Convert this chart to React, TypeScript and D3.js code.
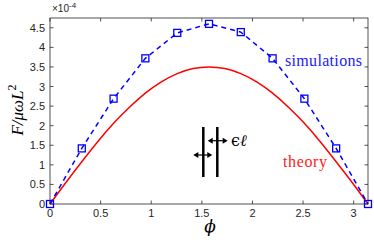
import * as d3 from "d3"

const W = 374
const H = 240
const MARGIN = { top: 18, right: 5, bottom: 36, left: 50 }

// simulations: phi = k*pi/10
const simPhi = [0, 0.314, 0.628, 0.942, 1.257, 1.571, 1.885, 2.199, 2.513, 2.827, 3.1416]
const simF = [0, 1.42, 2.69, 3.72, 4.37, 4.6, 4.39, 3.72, 2.69, 1.42, 0]

const thPhi = [0, 0.157, 0.314, 0.471, 0.628, 0.785, 0.942, 1.1, 1.257, 1.414, 1.571,
  1.728, 1.885, 2.042, 2.199, 2.356, 2.513, 2.67, 2.827, 2.985, 3.1416]
const thF = [0, 0.55, 1.08, 1.59, 2.06, 2.47, 2.83, 3.12, 3.33, 3.46, 3.5,
  3.46, 3.33, 3.12, 2.83, 2.47, 2.06, 1.59, 1.08, 0.55, 0]

const xTicks = [0, 0.5, 1, 1.5, 2, 2.5, 3]
const yTicks = [0, 0.5, 1, 1.5, 2, 2.5, 3, 3.5, 4, 4.5]

const AXIS = "#262626"
const TICK_FONT = "'Liberation Sans', Arial, sans-serif"
const SERIF = "'DejaVu Serif', 'Liberation Serif', serif"
const SERIF2 = "'Liberation Serif', 'Times New Roman', serif"

export default function App() {
  const iw = W - MARGIN.left - MARGIN.right
  const ih = H - MARGIN.top - MARGIN.bottom

  const x = d3.scaleLinear().domain([0, Math.PI]).range([0, iw - 1])
  const y = d3.scaleLinear().domain([0, 4.75]).range([ih, 0])

  const simLine = d3
    .line<number>()
    .x((_, i) => x(simPhi[i]))
    .y((d) => y(d))
  const thLine = d3
    .line<number>()
    .x((_, i) => x(thPhi[i]))
    .y((d) => y(d))
    .curve(d3.curveNatural)

  const xr = x(Math.PI)

  return (
    <svg
      width={W}
      height={H}
      style={{ position: "absolute", left: 0, top: 0, background: "#fff" }}
    >
      <g transform={`translate(${MARGIN.left},${MARGIN.top})`}>
        <rect x={0} y={0} width={xr} height={ih} fill="none" stroke={AXIS} strokeWidth={0.8} />

        {xTicks.map((t) => (
          <g key={"x" + t}>
            <line x1={x(t)} x2={x(t)} y1={ih} y2={ih - 3.5} stroke={AXIS} strokeWidth={0.8} />
            <line x1={x(t)} x2={x(t)} y1={0} y2={3.5} stroke={AXIS} strokeWidth={0.8} />
            <text
              x={x(t)}
              y={ih + 13}
              textAnchor="middle"
              fontFamily={TICK_FONT}
              fontSize={11}
              fill={AXIS}
            >
              {t}
            </text>
          </g>
        ))}

        {yTicks.map((t) => (
          <g key={"y" + t}>
            <line x1={0} x2={3.5} y1={y(t)} y2={y(t)} stroke={AXIS} strokeWidth={0.8} />
            <line x1={xr} x2={xr - 3.5} y1={y(t)} y2={y(t)} stroke={AXIS} strokeWidth={0.8} />
            <text
              x={-5}
              y={y(t) + 4}
              textAnchor="end"
              fontFamily={TICK_FONT}
              fontSize={11}
              fill={AXIS}
            >
              {t}
            </text>
          </g>
        ))}

        <text x={2} y={-6} fontFamily={TICK_FONT} fontSize={10} fill={AXIS}>
          ×10<tspan dy={-4} fontSize={8}>-4</tspan>
        </text>

        <path d={thLine(thF) ?? ""} fill="none" stroke="#ff0000" strokeWidth={1.5} />
        <path
          d={simLine(simF) ?? ""}
          fill="none"
          stroke="#0000ff"
          strokeWidth={1.5}
          strokeDasharray="5,4"
        />
        {simF.map((d, i) => (
          <rect
            key={i}
            x={x(simPhi[i]) - 3.5}
            y={y(d) - 3.5}
            width={7}
            height={7}
            fill="none"
            stroke="#0000ff"
            strokeWidth={1.3}
          />
        ))}

        <text
          x={235}
          y={48}
          style={{ fontFamily: SERIF2 }}
          fontSize={16}
          fill="#2020ff"
          textLength={77}
        >
          simulations
        </text>
        <text
          x={233}
          y={148.5}
          style={{ fontFamily: SERIF2 }}
          fontSize={16}
          fill="#ff2020"
          textLength={44}
        >
          theory
        </text>

        {/* inset sketch */}
        <g stroke="#000">
          <line x1={153.3} x2={153.3} y1={109} y2={159} strokeWidth={2.5} />
          <line x1={167.3} x2={167.3} y1={109} y2={159} strokeWidth={2.5} />
          <line x1={160} x2={175.5} y1={122.7} y2={122.7} strokeWidth={1.2} />
          <line x1={145.5} x2={160.5} y1={137} y2={137} strokeWidth={1.2} />
        </g>
        <g fill="#000">
          <path d="M157.7,122.7 l5,-3 l0,6 z" />
          <path d="M177.7,122.7 l-5,-3 l0,6 z" />
          <path d="M143.3,137 l5,-3 l0,6 z" />
          <path d="M162.3,137 l-5,-3 l0,6 z" />
        </g>
        <text x={181} y={128} fontFamily={SERIF} fontSize={16} fill="#000">
          ϵ<tspan fontStyle="italic">ℓ</tspan>
        </text>
      </g>

      <text
        x={210}
        y={232}
        textAnchor="middle"
        fontFamily={SERIF}
        fontStyle="italic"
        fontSize={17}
        fill="#000"
      >
        ϕ
      </text>
      <text
        transform="translate(23,110) rotate(-90)"
        textAnchor="middle"
        fontFamily={SERIF2}
        fontStyle="italic"
        fontSize={17}
        fill="#000"
      >
        F/μωL<tspan dy={-7} fontSize={12} fontStyle="normal">2</tspan>
      </text>
    </svg>
  )
}
